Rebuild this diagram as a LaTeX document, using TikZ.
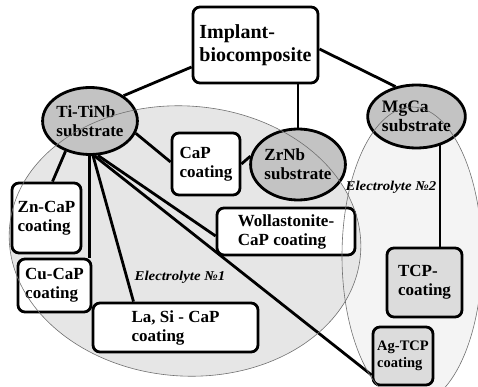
\documentclass[tikz,border=0pt]{standalone}
\usepackage{fontspec}
\setmainfont{Liberation Serif}
\usetikzlibrary{shapes.geometric}
\pgfdeclarelayer{bg}
\pgfdeclarelayer{lines}
\pgfdeclarelayer{fg}
\pgfsetlayers{bg,lines,main,fg}
\definecolor{eone}{HTML}{E6E6E6}
\definecolor{etwo}{HTML}{F4F4F4}
\definecolor{subg}{HTML}{C3C3C3}
\definecolor{tcpg}{HTML}{DCDCDC}
\definecolor{outl}{HTML}{707070}
\tikzset{
  box/.style={draw, line width=2.8pt, rounded corners=7pt, fill=white, align=left, inner sep=0pt,
    font=\bfseries\fontsize{17}{19}\selectfont},
  graybox/.style={box, fill=tcpg},
  sub/.style={ellipse, draw, line width=2.8pt, fill=subg, align=left, inner sep=0pt,
    font=\bfseries\fontsize{17}{19}\selectfont},
  conn/.style={line width=2.8pt},
  elabel/.style={font=\bfseries\itshape\fontsize{13.5}{15}\selectfont, xscale=1.1, inner sep=0pt},
  eoutline/.style={draw=outl, line width=0.6pt}
}
\begin{document}
\begin{tikzpicture}[x=1pt,y=-1pt]
\useasboundingbox (0,0) rectangle (478,387);
% electrolyte regions (fills)
\begin{pgfonlayer}{bg}
  \fill[etwo] (412,256) ellipse [x radius=70, y radius=149];
  \fill[eone, rotate around={-4:(185,241)}] (185,241) ellipse [x radius=176, y radius=135];
\end{pgfonlayer}
% nodes
\node[box, minimum width=125pt, minimum height=76pt, font=\bfseries\fontsize{20}{23}\selectfont] (impl) at (255.5,45) {Implant-\\biocomposite};
\node[sub, minimum width=88pt, minimum height=67pt] (ti) at (90,121) {Ti-TiNb\\substrate};
\node[sub, minimum width=90pt, minimum height=71pt] (zr) at (298,164.5) {ZrNb\\substrate};
\node[sub, minimum width=87pt, minimum height=63pt, font=\bfseries\fontsize{17.5}{19}\selectfont] (mg) at (416.5,116.5) {MgCa\\substrate};
\node[box, minimum width=68pt, minimum height=62pt] (cap) at (206,164) {CaP\\coating};
\node[box, minimum width=138pt, minimum height=47pt] (woll) at (286,231.5) {Wollastonite-\\CaP coating};
\node[box, minimum width=69pt, minimum height=70pt] (zn) at (46.5,218) {Zn-CaP\\coating};
\node[box, minimum width=73pt, minimum height=53pt] (cu) at (54.5,285.5) {Cu-CaP\\coating};
\node[box, minimum width=165pt, minimum height=49pt] (la) at (175.5,327.5) {La, Si - CaP\\coating};
\node[graybox, minimum width=75pt, minimum height=69pt] (tcp) at (424.5,282.5) {TCP-\\coating};
\node[graybox, minimum width=60pt, minimum height=58pt, font=\bfseries\fontsize{14.5}{17}\selectfont] (ag) at (403,356) {Ag-TCP\\coating};
\node[elabel] (e1) at (180,277) {Electrolyte №1};
\node[elabel] (e2) at (391,187) {Electrolyte №2};
% connectors
\begin{pgfonlayer}{lines}
  \draw[conn] ([yshift=-22pt]impl.west) -- (ti.37);
  \draw[conn] ([yshift=-4pt]impl.east) -- (mg.125);
  \draw[conn] (zr.north) -- (zr.north |- impl.south);
  \draw[conn] (cap.east) -- (zr.170);
  \draw[conn] (ti.-15) -- ([yshift=2pt]cap.west);
  \draw[conn] (ti.-129) -- ([xshift=6pt]zn.north);
  \draw[conn] ([xshift=-3pt]cu.north east) -- ([xshift=-3pt]cu.north east |- ti.center);
  \draw[conn] (ti.-85) -- ([xshift=-42pt]la.north);
  \draw[conn] (ti.-77) -- ([yshift=-4.5pt]woll.west);
  \draw[conn] (ti.-83) -- ([yshift=-19pt]ag.west);
  \draw[conn] ([xshift=15.5pt]tcp.north) -- ([xshift=15.5pt]tcp.north |- mg.center);
\end{pgfonlayer}
% electrolyte outlines on top
\begin{pgfonlayer}{fg}
  \draw[eoutline] (412,256) ellipse [x radius=70, y radius=149];
  \draw[eoutline, rotate around={-4:(185,241)}] (185,241) ellipse [x radius=176, y radius=135];
\end{pgfonlayer}
\end{tikzpicture}
\end{document}
